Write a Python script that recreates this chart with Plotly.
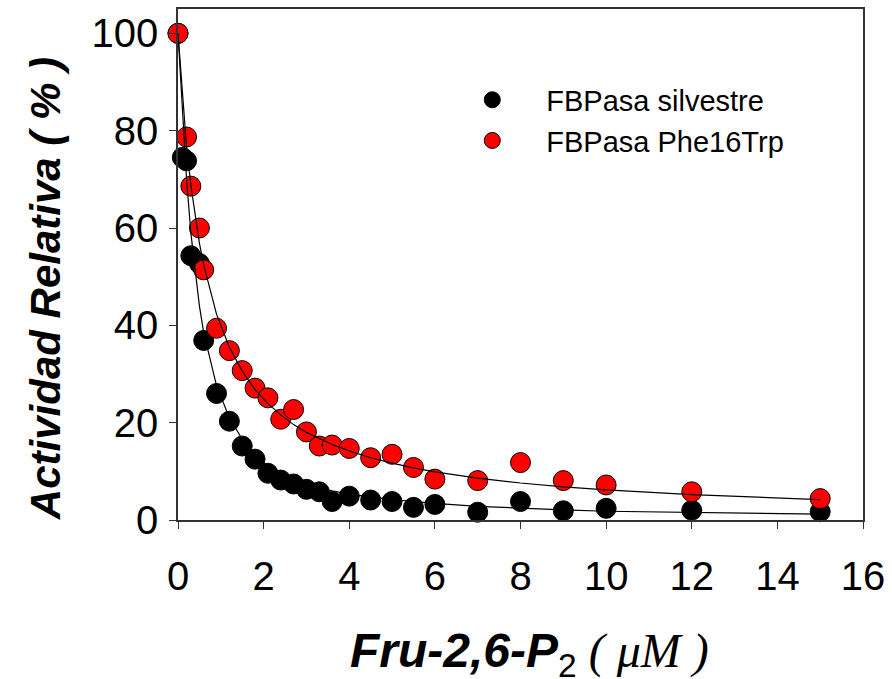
import plotly.graph_objects as go

# --- data ---
x_wt = [0, 0.1, 0.2, 0.3, 0.5, 0.6, 0.9, 1.2, 1.5, 1.8, 2.1, 2.4, 2.7, 3.0, 3.3, 3.6, 4.0, 4.5, 5.0, 5.5, 6.0, 7, 8, 9, 10, 12, 15]
y_wt = [100, 74.5, 73.8, 54.3, 52.7, 36.9, 26.0, 20.3, 15.2, 12.5, 9.6, 8.2, 7.4, 6.3, 5.8, 3.8, 4.9, 4.1, 3.8, 2.6, 3.2, 1.6, 3.8, 1.9, 2.4, 2.0, 1.7]
fit_wt = [100, 84.0, 70.0, 59.0, 44.0, 38.5, 27.6, 21.0, 16.6, 13.4, 11.0, 9.5, 8.3, 7.3, 6.6, 6.0, 5.3, 4.7, 4.2, 3.8, 3.4, 2.8, 2.4, 2.1, 1.8, 1.5, 1.2]

x_mut = [0, 0.2, 0.3, 0.5, 0.6, 0.9, 1.2, 1.5, 1.8, 2.1, 2.4, 2.7, 3.0, 3.3, 3.6, 4.0, 4.5, 5.0, 5.5, 6.0, 7, 8, 9, 10, 12, 15]
y_mut = [100, 78.7, 68.6, 60.0, 51.4, 39.4, 34.8, 30.7, 27.1, 25.1, 20.7, 22.7, 18.1, 15.2, 15.4, 14.7, 12.8, 13.5, 10.8, 8.4, 8.1, 11.8, 8.1, 7.2, 5.8, 4.4]
fit_mut = [100, 76.7, 68.8, 56.9, 52.4, 42.3, 35.5, 30.6, 26.8, 23.9, 21.6, 19.6, 18.0, 16.7, 15.5, 14.2, 12.8, 11.7, 10.7, 9.9, 8.6, 7.6, 6.8, 6.2, 5.2, 4.2]

series_names = ["FBPasa silvestre", "FBPasa Phe16Trp"]
series_colors = ["#000000", "#ff0000"]
x_ticks = [0, 2, 4, 6, 8, 10, 12, 14, 16]
y_ticks = [0, 20, 40, 60, 80, 100]

fig = go.Figure()
for xs, ys, name, col in [(x_wt, y_wt, series_names[0], series_colors[0]),
                          (x_mut, y_mut, series_names[1], series_colors[1])]:
    fig.add_trace(go.Scatter(x=xs, y=ys, mode="markers", name=name,
                             marker=dict(size=20, color=col, line=dict(color="black", width=1)),
                             cliponaxis=False))
for xs, ys in [(x_wt, fit_wt), (x_mut, fit_mut)]:
    fig.add_trace(go.Scatter(x=xs, y=ys, mode="lines", showlegend=False,
                             line=dict(color="black", width=1.2), cliponaxis=False))

axis_common = dict(showgrid=False, zeroline=False, showline=True, linecolor="#333333", linewidth=1.5,
                   mirror=True, ticks="outside", ticklen=7, tickwidth=1.2, tickcolor="#333333",
                   tickfont=dict(family="Liberation Sans, Arial", size=40, color="black"))
fig.update_xaxes(range=[0, 16], tickvals=x_ticks, ticklabelstandoff=13, **axis_common)
fig.update_yaxes(range=[0, 105], tickvals=y_ticks, ticklabelstandoff=3, **axis_common)

fig.update_layout(
    width=892, height=679, plot_bgcolor="white", paper_bgcolor="white",
    margin=dict(l=178, r=28, t=7, b=159),
    legend=dict(x=0.380, y=0.872, xanchor="left", yanchor="top", bgcolor="rgba(0,0,0,0)",
                font=dict(family="Liberation Sans, Arial", size=29, color="black"),
                itemwidth=98, tracegroupgap=0),
    annotations=[
        dict(text="<b><i>Fru-2,6-P</i></b><sub>2</sub><span style='font-family:Liberation Serif'><i> ( μM )</i></span>",
             xref="paper", yref="paper", x=0.513, y=-0.262, xanchor="center", yanchor="middle",
             showarrow=False, font=dict(family="Liberation Sans, Arial", size=48, color="black")),
        dict(text="<b><i>Actividad Relativa ( % )</i></b>", textangle=-90,
             xref="paper", yref="paper", x=-0.194, y=0.452, xanchor="center", yanchor="middle",
             showarrow=False, font=dict(family="Liberation Sans, Arial", size=42, color="black")),
    ],
)
fig.write_html("out.html")
